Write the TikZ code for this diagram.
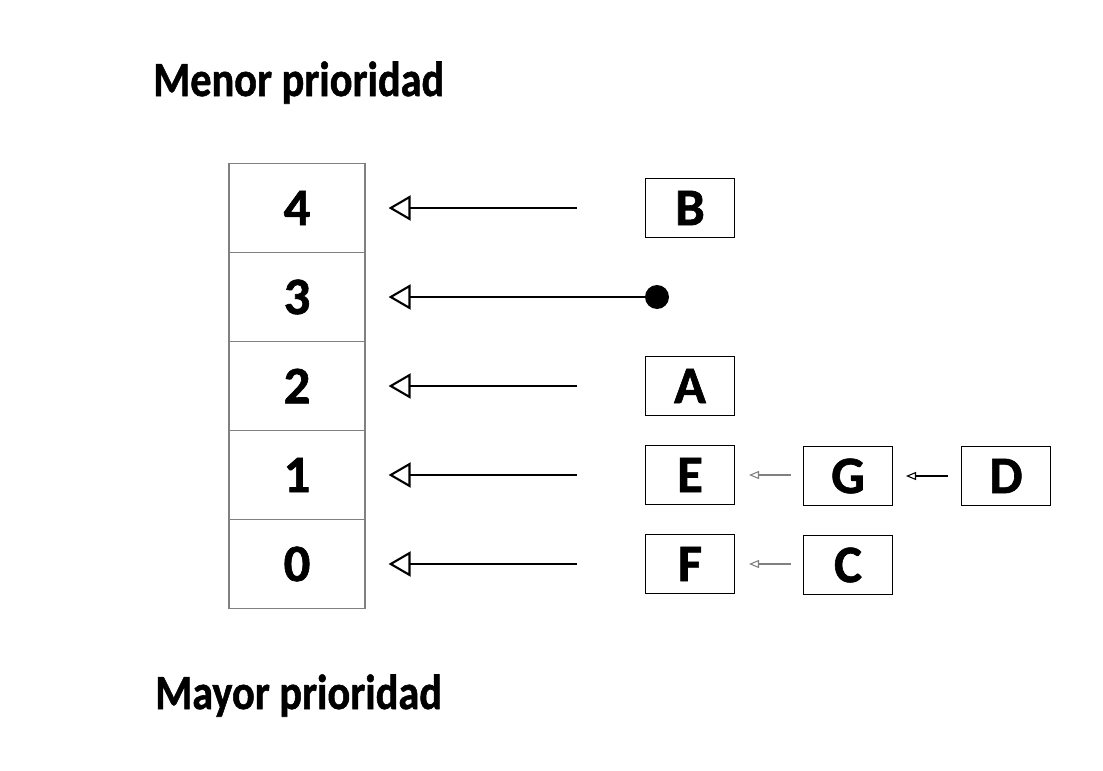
\documentclass[tikz,border=0pt]{standalone}
\usepackage{fontspec}
\setmainfont{Carlito}[BoldFeatures={FakeBold=1.2}]
\usetikzlibrary{arrows.meta}

\begin{document}
\begin{tikzpicture}[x=0.02cm,y=-0.02cm,
  cell/.style={draw=gray,line width=0.7pt,minimum width=2.72cm,minimum height=1.78cm,inner sep=0pt,font=\fontsize{30}{32}\selectfont\bfseries},
  job/.style={draw=black,line width=0.7pt,minimum width=1.78cm,minimum height=1.18cm,inner sep=0pt,font=\fontsize{30}{32}\selectfont\bfseries},
  title/.style={anchor=base west,inner sep=0pt,xscale=0.86,font=\fontsize{28}{32}\selectfont\bfseries},
  link/.style={-{Triangle[open,length=0.44cm,width=0.5cm,line width=1.2pt]},line width=1.3pt},
  small/.style={-{Triangle[open,length=0.2cm,width=0.16cm]},line width=0.6pt}]
\useasboundingbox (0,0) rectangle (1103,771);

\node[title] (menor) at (153,96) {Menor prioridad};
\node[title] (mayor) at (155,709) {Mayor prioridad};

% priority queue
\foreach \p/\y in {4/208,3/297,2/386,1/475,0/564}{
  \node[cell] (c\p) at (297,\y) {\p};
  \coordinate (s\p) at (577,\y);
}

% processes
\node[job] (B) at (690,208) {B};
\node[job] (A) at (690,386) {A};
\node[job] (E) at (690,475) {E};
\node[job] (G) at (848,476) {G};
\node[job] (D) at (1006,476) {D};
\node[job] (F) at (690,564) {F};
\node[job] (C) at (848,565) {C};
\node[circle,fill=black,minimum size=0.48cm,inner sep=0pt] (nil) at (657,297) {};

\draw[link] (s4) -- ([xshift=0.46cm]c4.east);
\draw[link] (nil.center) -- ([xshift=0.46cm]c3.east);
\draw[link] (s2) -- ([xshift=0.46cm]c2.east);
\draw[link] (s1) -- ([xshift=0.46cm]c1.east);
\draw[link] (s0) -- ([xshift=0.46cm]c0.east);

% small links between processes
\coordinate (g1) at (791,475);
\coordinate (d1) at (948,476);
\coordinate (k1) at (791,564);
\draw[small,draw=gray] (g1) -- (g1 -| 749,0);
\draw[small] (d1) -- (d1 -| 906,0);
\draw[small,draw=gray] (k1) -- (k1 -| 749,0);
\end{tikzpicture}
\end{document}
